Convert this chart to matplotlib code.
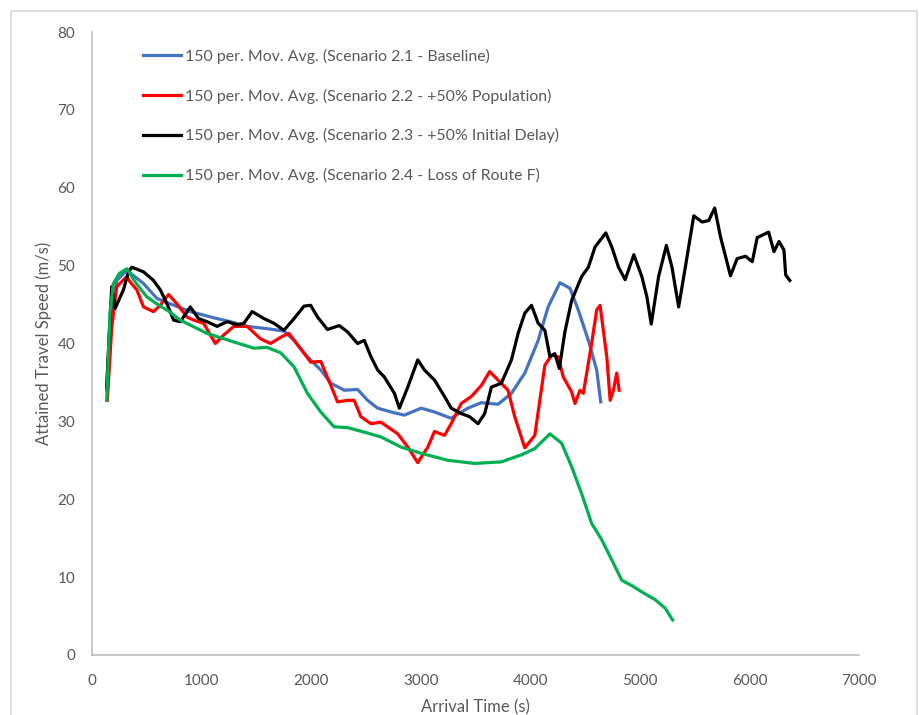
import matplotlib
matplotlib.use("Agg")
import matplotlib.pyplot as plt
from matplotlib.patches import Rectangle

plt.rcParams['font.family'] = ['Lato', 'DejaVu Sans']

# series data (arrival time s, speed m/s)
blue_x = [134, 160, 226, 318, 470, 592, 714, 897, 1111, 1264, 1416, 1599, 1752, 1844, 1966,
          2088, 2180, 2302, 2424, 2515, 2607, 2730, 2851, 3004, 3126, 3278, 3431, 3553, 3706,
          3828, 3950, 4072, 4163, 4270, 4362, 4438, 4530, 4606, 4643]
blue_y = [34.0, 42.0, 48.1, 49.4, 47.7, 45.8, 45.1, 44.1, 43.3, 42.8, 42.2, 41.9, 41.6, 40.4, 38.3,
          36.6, 34.9, 34.0, 34.1, 32.7, 31.7, 31.2, 30.8, 31.7, 31.2, 30.4, 31.7, 32.4, 32.2,
          33.6, 36.2, 40.4, 44.7, 47.8, 47.1, 44.3, 40.4, 36.6, 32.5]

red_x = [140, 180, 226, 318, 348, 409, 470, 561, 623, 699, 775, 867, 928, 1019, 1126, 1203, 1294,
         1416, 1538, 1630, 1722, 1798, 1905, 1996, 2088, 2180, 2241, 2332, 2393, 2454, 2546, 2637,
         2698, 2790, 2882, 2973, 3065, 3126, 3217, 3278, 3370, 3462, 3553, 3629, 3706, 3797, 3858,
         3950, 4041, 4133, 4194, 4255, 4301, 4377, 4408, 4454, 4484, 4560, 4606, 4637, 4698, 4729,
         4759, 4789, 4811]
red_y = [32.7, 42.0, 47.3, 48.6, 47.9, 46.9, 44.7, 44.1, 44.9, 46.3, 45.1, 43.4, 43.0, 42.6, 40.0, 41.1, 42.2,
         42.2, 40.6, 40.0, 40.8, 41.3, 39.3, 37.6, 37.7, 34.6, 32.5, 32.7, 32.7, 30.6, 29.7, 29.9,
         29.3, 28.4, 26.7, 24.7, 26.7, 28.7, 28.2, 29.7, 32.3, 33.2, 34.6, 36.4, 35.3, 34.0, 30.6,
         26.6, 28.2, 37.2, 38.5, 38.3, 35.7, 33.8, 32.3, 34.0, 33.6, 40.0, 44.3, 44.9, 38.3, 32.7,
         34.0, 36.2, 34.0]

black_x = [134, 180, 211, 287, 333, 364, 470, 561, 623, 684, 745, 806, 897, 973, 1050, 1142, 1233,
           1325, 1386, 1462, 1569, 1660, 1752, 1844, 1935, 1996, 2058, 2149, 2256, 2332, 2424, 2485,
           2546, 2607, 2668, 2760, 2805, 2882, 2973, 3034, 3126, 3217, 3278, 3370, 3446, 3523, 3584,
           3645, 3736, 3828, 3889, 3950, 4011, 4072, 4133, 4179, 4224, 4265, 4316, 4377, 4469, 4530,
           4591, 4689, 4744, 4805, 4866, 4945, 5018, 5064, 5104, 5171, 5242, 5293, 5354, 5415, 5492,
           5568, 5629, 5683, 5736, 5827, 5888, 5965, 6026, 6071, 6175, 6224, 6270, 6315, 6331, 6368]
black_y = [34.4, 47.3, 44.5, 46.9, 49.2, 49.8, 49.2, 48.1, 46.9, 45.1, 43.0, 42.8, 44.7, 43.2, 42.8, 42.2, 42.8,
           42.4, 42.6, 44.1, 43.2, 42.6, 41.7, 43.2, 44.8, 44.9, 43.4, 41.8, 42.3, 41.5, 40.0, 40.4,
           38.3, 36.6, 35.7, 33.6, 31.7, 34.4, 37.9, 36.6, 35.3, 33.2, 31.7, 31.0, 30.6, 29.7, 31.0,
           34.4, 34.9, 37.9, 41.3, 43.9, 44.9, 42.6, 41.7, 38.3, 38.7, 36.8, 41.5, 45.5, 48.6, 49.8,
           52.4, 54.2, 52.4, 49.8, 48.2, 51.4, 48.6, 46.0, 42.5, 48.6, 52.6, 49.8, 44.7, 49.8, 56.4,
           55.6, 55.8, 57.4, 53.7, 48.7, 50.9, 51.2, 50.5, 53.6, 54.3, 51.8, 53.1, 52.0, 48.8, 48.1]

green_x = [134, 165, 195, 250, 318, 400, 500, 600, 684, 806, 1050, 1294, 1477, 1599, 1722, 1844,
           1966, 2088, 2210, 2332, 2515, 2637, 2821, 3004, 3248, 3492, 3736, 3919, 4041, 4179, 4286,
           4377, 4469, 4560, 4652, 4744, 4835, 4927, 5018, 5140, 5232, 5299]
green_y = [32.7, 44.0, 47.7, 49.0, 49.6, 47.8, 46.0, 45.0, 44.3, 43.0, 41.3, 40.2, 39.4, 39.5, 38.8, 37.0,
           33.6, 31.2, 29.3, 29.2, 28.5, 28.0, 26.7, 25.9, 25.0, 24.6, 24.8, 25.7, 26.5, 28.4, 27.2,
           24.2, 20.7, 16.9, 14.8, 12.2, 9.6, 8.9, 8.1, 7.1, 6.0, 4.5]

labels = ["150 per. Mov. Avg. (Scenario 2.1 - Baseline)",
          "150 per. Mov. Avg. (Scenario 2.2 - +50% Population)",
          "150 per. Mov. Avg. (Scenario 2.3 - +50% Initial Delay)",
          "150 per. Mov. Avg. (Scenario 2.4 - Loss of Route F)"]
colors = ["#4472C4", "#FF0000", "#000000", "#00B050"]
x_ticks = [0, 1000, 2000, 3000, 4000, 5000, 6000, 7000]
y_ticks = [0, 10, 20, 30, 40, 50, 60, 70, 80]

text_col = "#595959"
axis_col = "#BFBFBF"

fig = plt.figure(figsize=(9.2, 7.15), dpi=100)
# chart area border
fig.patches.append(Rectangle((11 / 920, -0.05), 906 / 920, 1 - 11 / 715 + 0.05,
                             transform=fig.transFigure, fill=False,
                             edgecolor="#D9D9D9", linewidth=1.2))

ax = fig.add_axes([92 / 920, 1 - 655 / 715, (859 - 92) / 920, (655 - 32) / 715])

series = [(blue_x, blue_y), (red_x, red_y), (black_x, black_y), (green_x, green_y)]
for (xs, ys), lab, c in zip(series, labels, colors):
    ax.plot(xs, ys, color=c, lw=2.3, label=lab, solid_joinstyle="round")

ax.set_xlim(0, 7000)
ax.set_ylim(0, 80)
ax.set_xticks(x_ticks)
ax.set_yticks(y_ticks)
ax.tick_params(length=0, colors=text_col, labelsize=11, pad=12)
ax.tick_params(axis="x", pad=14)
for s in ["top", "right"]:
    ax.spines[s].set_visible(False)
for s in ["left", "bottom"]:
    ax.spines[s].set_color(axis_col)
    ax.spines[s].set_linewidth(1.2)

ax.set_xlabel("Arrival Time (s)", color=text_col, fontsize=12, labelpad=8)
ax.set_ylabel("Attained Travel Speed (m/s)", color=text_col, fontsize=12, labelpad=4)

leg = ax.legend(loc="upper left", bbox_to_anchor=(0.048, 0.996), frameon=False,
                fontsize=11.4, labelspacing=1.56, handlelength=2.4, handletextpad=0.25)
for t in leg.get_texts():
    t.set_color(text_col)

fig.savefig("out.png", dpi=100)
